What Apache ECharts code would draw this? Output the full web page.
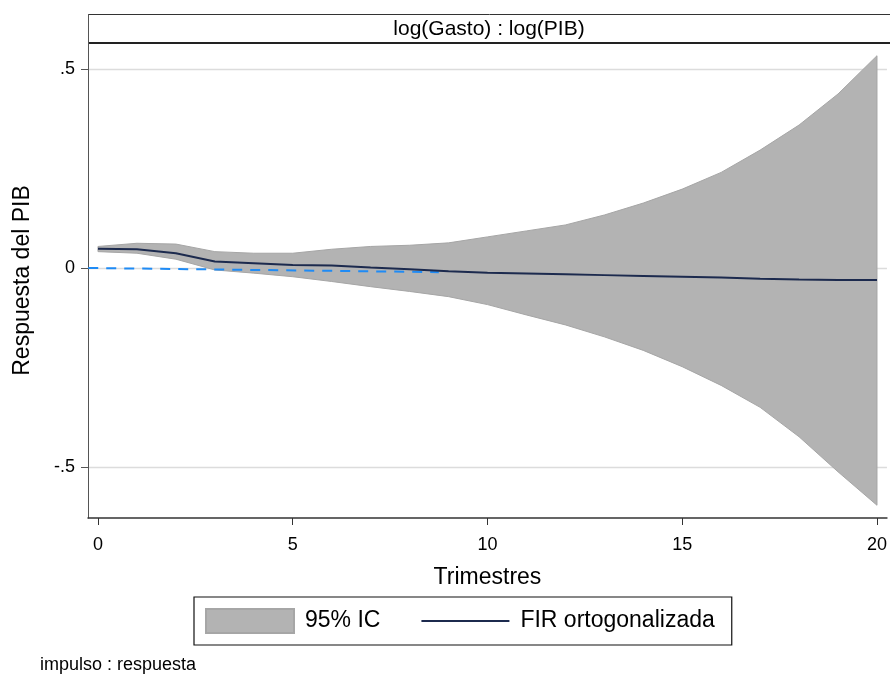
<!DOCTYPE html>
<html>
<head>
<meta charset="utf-8">
<script src="https://cdn.jsdelivr.net/npm/echarts@6/dist/echarts.min.js"></script>
<style>
  html, body { margin: 0; padding: 0; background: #fff; }
  #chart { width: 890px; height: 675px; }
</style>
</head>
<body>
<div id="chart"></div>
<script>
// Orthogonalised impulse response: log(Gasto) -> log(PIB), 95% confidence band
const periods = [0, 1, 2, 3, 4, 5, 6, 7, 8, 9, 10, 11, 12, 13, 14, 15, 16, 17, 18, 19, 20];
const irf   = [0.048, 0.047, 0.037, 0.016, 0.012, 0.0075, 0.006, 0.001, -0.003, -0.008, -0.012,
               -0.014, -0.016, -0.018, -0.020, -0.022, -0.024, -0.027, -0.029, -0.030, -0.030];
const upper = [0.054, 0.062, 0.060, 0.041, 0.037, 0.037, 0.047, 0.054, 0.057, 0.063, 0.078,
               0.093, 0.108, 0.133, 0.163, 0.198, 0.240, 0.296, 0.359, 0.437, 0.533];
const lower = [0.041, 0.037, 0.022, -0.005, -0.013, -0.022, -0.034, -0.047, -0.059, -0.072, -0.092,
               -0.118, -0.143, -0.173, -0.207, -0.248, -0.295, -0.350, -0.424, -0.512, -0.596];
// dashed zero reference segment
const refX = [-0.25, 8.75];
const refY = [0, -0.0105];

const xTicks = [0, 5, 10, 15, 20];
const yTicks = [-0.5, 0, 0.5];
const yTickLabels = ['-.5', '0', '.5'];

const FONT = 'Liberation Sans, Arial, sans-serif';
const BAND_FILL = '#b3b3b3';
const BAND_EDGE = '#a6a6a6';
const IRF_COLOR = '#1c2a4e';

const bandRows = periods.map((t, i) => [t, lower[i], upper[i]]);
const irfPairs = periods.map((t, i) => [t, irf[i]]);
const refPairs = refX.map((x, i) => [x, refY[i]]);

function clipOf(cs) {
  return { type: 'rect', shape: { x: cs.x, y: cs.y, width: cs.width, height: cs.height } };
}

// the whole band is one polygon: upper edge left->right, lower edge right->left
function renderBand(params, api) {
  if (params.dataIndex !== 0) return null;
  const top = bandRows.map(r => api.coord([r[0], r[2]]));
  const bottom = bandRows.map(r => api.coord([r[0], r[1]])).reverse();
  return {
    type: 'polygon',
    shape: { points: top.concat(bottom) },
    style: { fill: BAND_FILL, stroke: BAND_EDGE, lineWidth: 1 },
    clipPath: clipOf(params.coordSys)
  };
}

// horizontal grid line across the plot at one y tick value
function renderGridLine(params, api) {
  const cs = params.coordSys;
  const y = Math.round(api.coord([0, api.value(0)])[1]) + 0.5;
  return {
    type: 'line',
    shape: { x1: cs.x + 1, y1: y, x2: cs.x + cs.width, y2: y },
    style: { stroke: '#dcdcdc', lineWidth: 1.5 }
  };
}

const chart = echarts.init(document.getElementById('chart'), null, { renderer: 'canvas' });

chart.setOption({
  animation: false,
  backgroundColor: '#ffffff',
  grid: { left: 88, right: 0, top: 43, bottom: 157, containLabel: false },
  xAxis: {
    type: 'value',
    min: -0.256,
    max: 20.256,
    name: 'Trimestres',
    nameLocation: 'middle',
    nameGap: 48,
    nameTextStyle: { fontFamily: FONT, fontSize: 23, color: '#000' },
    axisLine: { show: true, onZero: false, lineStyle: { color: '#333', width: 1.5 } },
    axisTick: { show: true, length: 7, customValues: xTicks, lineStyle: { color: '#333' } },
    axisLabel: { customValues: xTicks, margin: 18, fontFamily: FONT, fontSize: 18, color: '#000' },
    splitLine: { show: false }
  },
  yAxis: {
    type: 'value',
    min: -0.628,
    max: 0.565,
    name: 'Respuesta del PIB',
    nameLocation: 'middle',
    nameGap: 54,
    nameTextStyle: { fontFamily: FONT, fontSize: 23, color: '#000' },
    axisLine: { show: true, onZero: false, lineStyle: { color: '#555', width: 1 } },
    axisTick: { show: true, length: 7, customValues: yTicks, lineStyle: { color: '#555' } },
    axisLabel: {
      customValues: yTicks,
      margin: 13,
      fontFamily: FONT,
      fontSize: 18,
      color: '#000',
      formatter: v => {
        const i = yTicks.findIndex(t => Math.abs(t - v) < 1e-9);
        return i >= 0 ? yTickLabels[i] : '';
      }
    },
    splitLine: { show: false }
  },
  legend: {
    left: 194,
    top: 597,
    orient: 'horizontal',
    padding: [11, 17, 11, 11],
    itemGap: 41,
    itemWidth: 88,
    itemHeight: 24,
    symbolKeepAspect: true,
    borderColor: '#111',
    borderWidth: 1.2,
    backgroundColor: '#fff',
    textStyle: { fontFamily: FONT, fontSize: 23, color: '#000', padding: [0, 0, 0, 6] },
    data: [
      { name: '95% IC', icon: 'rect', itemStyle: { color: BAND_FILL, borderColor: BAND_EDGE, borderWidth: 2 } },
      { name: 'FIR ortogonalizada', icon: 'path://M0,0 L84,0 L84,2 L0,2 Z', itemStyle: { color: IRF_COLOR, borderWidth: 0 } }
    ]
  },
  graphic: [
    {
      type: 'group',
      x: 88,
      y: 14,
      children: [
        { type: 'rect', shape: { x: 0, y: 0, width: 803, height: 29 }, style: { fill: '#fff', lineWidth: 0 } },
        { type: 'line', shape: { x1: 0, y1: 0.5, x2: 803, y2: 0.5 }, style: { stroke: '#333', lineWidth: 1 } },
        { type: 'line', shape: { x1: 0, y1: 29, x2: 803, y2: 29 }, style: { stroke: '#222', lineWidth: 2 } },
        { type: 'line', shape: { x1: 0.5, y1: 0, x2: 0.5, y2: 29 }, style: { stroke: '#555', lineWidth: 1 } },
        {
          type: 'text',
          x: 401,
          y: 15,
          style: { text: 'log(Gasto) : log(PIB)', font: '21px ' + FONT, fill: '#000', align: 'center', verticalAlign: 'middle' }
        }
      ]
    },
    {
      type: 'text',
      x: 40,
      y: 656,
      style: { text: 'impulso : respuesta', font: '18px ' + FONT, fill: '#000' }
    }
  ],
  series: [
    {
      name: 'grid',
      type: 'custom',
      renderItem: renderGridLine,
      data: yTicks.map(v => [v]),
      encode: { y: 0 },
      z: 1,
      silent: true
    },
    {
      name: '95% IC',
      type: 'custom',
      renderItem: renderBand,
      data: bandRows,
      encode: { x: 0, y: [1, 2] },
      z: 2,
      color: BAND_FILL,
      silent: true
    },
    {
      name: 'ref',
      type: 'line',
      data: refPairs,
      symbol: 'none',
      z: 3,
      lineStyle: { color: '#1f8bf5', width: 2, type: [10, 8] },
      silent: true
    },
    {
      name: 'FIR ortogonalizada',
      type: 'line',
      data: irfPairs,
      symbol: 'none',
      z: 4,
      color: IRF_COLOR,
      lineStyle: { color: IRF_COLOR, width: 2 }
    }
  ]
});
</script>
</body>
</html>
